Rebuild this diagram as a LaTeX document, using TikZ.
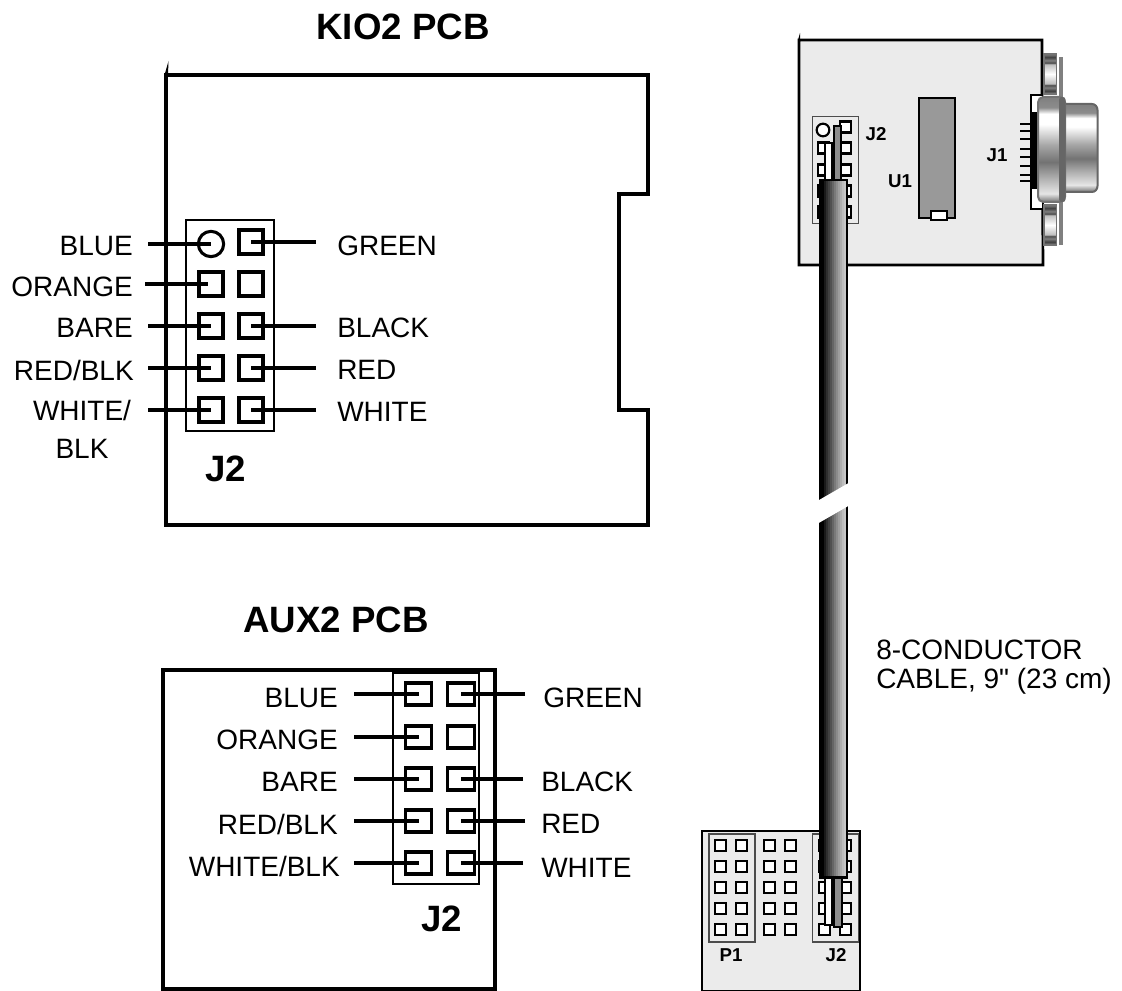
\documentclass[tikz,border=0pt]{standalone}
\usepackage{fontspec}
\setmainfont{Liberation Sans}
\newfontfamily\plainf{Liberation Sans}
\tikzset{
  lab/.style={inner sep=0pt,font=\fontsize{21}{24}\selectfont},
  title/.style={inner sep=0pt,font=\fontsize{27.5}{32}\selectfont\bfseries},
  small/.style={inner sep=0pt,font=\fontsize{14}{16}\selectfont\bfseries},
  outline/.style={line width=3pt,line join=miter},
  wire/.style={line width=2.6pt,line cap=butt},
  hbox/.style={draw=black,line width=1.5pt},
  tbox/.style={draw=black!70,line width=0.8pt},
  spin/.style={draw=black,fill=white,line width=1.9pt},
  board/.style={draw=black,fill=black!8,line width=2pt},
  sqpin/.style={draw=black,line width=2.3pt,inner sep=0pt},
}
\pgfdeclareverticalshading{flangeShade}{100bp}{color(0bp)=(black!55);color(25bp)=(black!55);color(29bp)=(black!10);color(36bp)=(black!30);color(44bp)=(black!55);color(52bp)=(black!35);color(62bp)=(white);color(67bp)=(white);color(70bp)=(black!45);color(75bp)=(black!50);color(100bp)=(black!50)}
\pgfdeclareverticalshading{postShade}{100bp}{color(0bp)=(black!50);color(25bp)=(black!50);color(29bp)=(black!75);color(33bp)=(black!50);color(36bp)=(black!70);color(38bp)=(black!25);color(50bp)=(white);color(62bp)=(black!25);color(64bp)=(black!70);color(67bp)=(black!50);color(71bp)=(black!75);color(75bp)=(black!50);color(100bp)=(black!50)}
\begin{document}
\begin{tikzpicture}[x=0.75pt,y=-0.75pt]
\useasboundingbox (0,0) rectangle (1122,991);
% ---- KIO2 ----
\node[title] (t1) at (403,27) {KIO2 PCB};
\draw[outline] (166,75) -- (648,75) -- (648,194) -- (619,194) -- (619,410) -- (648,410) -- (648,525) -- (166,525) -- cycle;
\fill (164.5,75) -- (168.5,61) -- (168,75) -- cycle;
\node[hbox,minimum width=66pt,minimum height=158pt,inner sep=0pt] (kbox) at (230,325.5) {};
\node[draw=black,line width=2.3pt,circle,minimum size=19pt,inner sep=0pt] (k1) at (211,244) {};
\foreach \n/\x/\y in {k2/251/242,k3/211/284,k4/251/284,k5/211/326,k6/251/326,k7/211/368,k8/251/368,k9/211/410,k10/251/410}
  \node[sqpin,minimum size=18pt] (\n) at (\x,\y) {};
\coordinate (w1) at (148,244);
\coordinate (w2) at (145,284);
\coordinate (w3) at (148,326);
\coordinate (w4) at (148,368);
\coordinate (w5) at (148,410);
\coordinate (e1) at (316,242);
\coordinate (e2) at (316,326);
\coordinate (e3) at (316,368);
\coordinate (e4) at (316,410);
\draw[wire] (w1) -- (k1.center);
\draw[wire] (w2) -- ([xshift=-2.2pt]k3.center);
\draw[wire] (w3) -- (k5.center);
\draw[wire] (w4) -- (k7.center);
\draw[wire] (w5) -- (k9.center);
\draw[wire] (e1) -- (k2.center);
\draw[wire] (e2) -- (k6.center);
\draw[wire] (e3) -- (k8.center);
\draw[wire] (e4) -- (k10.center);
\node[lab,anchor=east] (l1) at (133,246) {BLUE};
\node[lab,anchor=east] (l2) at (133,287) {ORANGE};
\node[lab,anchor=east] (l3) at (133,328) {BARE};
\node[lab,anchor=east] (l4) at (134,370) {RED/BLK};
\node[lab] (l5) at (82,410) {WHITE/};
\node[lab] (l6) at (82,449) {BLK};
\node[lab,anchor=west] (r1) at (337,246) {GREEN};
\node[lab,anchor=west] (r2) at (337,328) {BLACK};
\node[lab,anchor=west] (r3) at (337,370) {RED};
\node[lab,anchor=west] (r4) at (337,412) {WHITE};
\node[title] (jk) at (226,469) {J2};
% ---- AUX2 ----
\node[title] (t2) at (336,620) {AUX2 PCB};
\draw[outline] (163,989) -- (163,670) -- (495,670) -- (495,989) -- cycle;
\node[hbox,minimum width=64.5pt,minimum height=158pt,inner sep=0pt] (abox) at (436,778.5) {};
\foreach \n/\x/\y in {a1/418.5/694,a2/461/694,a3/418.5/737,a4/461/737,a5/418.5/779,a6/461/779,a7/418.5/821,a8/461/821,a9/418.5/863,a10/461/863}
  \node[sqpin,minimum width=20pt,minimum height=16.5pt] (\n) at (\x,\y) {};
\coordinate (u1) at (354,694);
\coordinate (u2) at (354,737);
\coordinate (u3) at (354,779);
\coordinate (u4) at (354,821);
\coordinate (u5) at (354,863);
\coordinate (v1) at (525,694);
\coordinate (v2) at (523,779);
\coordinate (v3) at (525,821);
\coordinate (v4) at (523,863);
\draw[wire] (u1) -- (a1.center);
\draw[wire] (u2) -- (a3.center);
\draw[wire] (u3) -- (a5.center);
\draw[wire] (u4) -- (a7.center);
\draw[wire] (u5) -- (a9.center);
\draw[wire] (v1) -- (a2.center);
\draw[wire] (v2) -- (a6.center);
\draw[wire] (v3) -- (a8.center);
\draw[wire] (v4) -- (a10.center);
\node[lab,anchor=east] (m1) at (338,698) {BLUE};
\node[lab,anchor=east] (m2) at (338,740) {ORANGE};
\node[lab,anchor=east] (m3) at (338,782) {BARE};
\node[lab,anchor=east] (m4) at (338,824) {RED/BLK};
\node[lab,anchor=east] (m5) at (340,866) {WHITE/BLK};
\node[lab,anchor=west] (n1) at (543,698) {GREEN};
\node[lab,anchor=west] (n2) at (541,782) {BLACK};
\node[lab,anchor=west] (n3) at (541,824) {RED};
\node[lab,anchor=west] (n4) at (541,868) {WHITE};
\node[title] (ja) at (442,919) {J2};
% ---- top right board ----
\draw[board] (799,40) -- (1042,40) -- (1042,95) -- (1043,265) -- (799,265) -- cycle;
\fill (798,40) -- (800,33) -- (800,40) -- cycle;
\node[tbox,minimum width=34pt,minimum height=80pt,inner sep=0pt] (tj) at (835.5,170) {};
\node[draw=black,fill=white,line width=1.6pt,circle,minimum size=9.5pt,inner sep=0pt] (t1p) at (823,130) {};
\foreach \n/\x/\y in {t2p/845.5/127,t3p/823.5/148,t4p/845.5/148,t5p/823.5/170,t6p/845.5/170,t7p/823.5/191,t8p/845.5/191,t9p/823.5/212,t10p/845.5/212}
  \node[spin,minimum size=8pt,inner sep=0pt] (\n) at (\x,\y) {};
\draw[line width=1pt,fill=white] (825,143) rectangle (832,182);
\draw[line width=1pt,fill=black!45] (834,126) rectangle (841,182);
\draw[line width=1.8pt,fill=black!40] (919,98) rectangle (955,218);
\draw[line width=1.8pt,fill=white] (931,211) rectangle (947,220);
\node[small] (lj2) at (876,134) {J2};
\node[small] (lu1) at (900,181) {U1};
\node[small] (lj1) at (997,155) {J1};
% J1 connector
\draw[line width=2pt,fill=white] (1042,95) -- (1031,95) -- (1031,209) -- (1042,209);
\foreach \y in {124,131,139,149,157,166,175,181}
  \draw[line width=1.5pt] (1020,\y) -- (1031,\y);
\fill (1030,112) rectangle (1037,189);
\foreach \y in {54,205}
  \shade[shading=postShade,draw=black!55,line width=1.1pt] (1044,\y) rectangle (1056.5,\y+40);
\fill[black!50] (1059,57) rectangle (1063,245);
\shade[shading=flangeShade,draw=black!60,line width=1.5pt] (1063,104) -- (1092,104) to[out=0,in=90] (1097.5,110) -- (1097.5,186) to[out=-90,in=0] (1092,192) -- (1063,192) -- cycle;
\shade[shading=flangeShade,draw=black!55,line width=1.5pt,rounded corners=4pt] (1038,97) rectangle (1065,202);
\fill[black!60,rounded corners=2pt] (1059,97) rectangle (1065.5,202);
% ---- bottom board ----
\draw[board] (702,991) -- (702,831) -- (860,831) -- (860,991) -- cycle;
\node[tbox,minimum width=34.5pt,minimum height=81pt,inner sep=0pt] (pb) at (732,888) {};
\node[tbox,minimum width=34pt,minimum height=81pt,inner sep=0pt] (jb) at (835.5,888) {};
\foreach \x in {720.5,741.5,769.5,790.5,824.5,845.5}
  \foreach \y in {845.5,866.5,887.5,908.5,929.5}
    \node[spin,minimum size=8pt,inner sep=0pt] at (\x,\y) {};
\draw[line width=1pt,fill=white] (825,876) rectangle (832,925);
\draw[line width=1pt,fill=black!45] (834,876) rectangle (842,927);
\node[small] (lp1) at (731,955) {P1};
\node[small] (lj2b) at (836,955) {J2};
% ---- cable: stepped grey bands, as in the reference ----
\fill[black] (819,180) rectangle (824,878);
\foreach \x/\p in {824/90,826/82,828/75,830/68,832/60,834/52,836/45,838/38,840/32,842/26}
  \fill[black!\p] (\x,180) rectangle (\x+2.3,878);
\fill[black!22] (844,180) rectangle (845.5,878);
\fill (845.5,180) rectangle (848,878);
\fill (819,179) rectangle (848,181.5);
\fill (819,875.5) rectangle (848,879);
\fill[white] (817,501.2) -- (850,482.2) -- (850,505) -- (817,524) -- cycle;
\node[lab,anchor=west] (c1) at (876,650) {8-CONDUCTOR};
\node[lab,anchor=west] (c2) at (876,681) {CABLE, 9{\plainf"} (23 cm)};
\end{tikzpicture}
\end{document}
